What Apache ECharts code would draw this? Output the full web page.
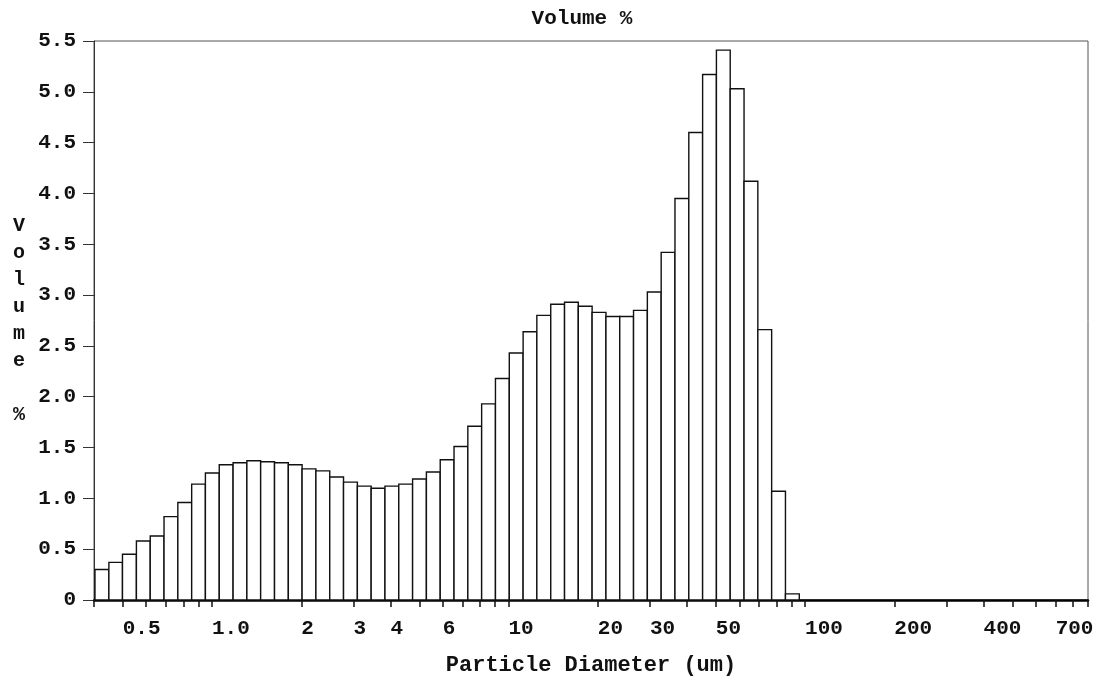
<!DOCTYPE html>
<html>
<head>
<meta charset="utf-8">
<script src="https://cdn.jsdelivr.net/npm/echarts@6/dist/echarts.min.js"></script>
<style>
  html, body { margin: 0; padding: 0; background: #fff; }
  #chart { width: 1103px; height: 684px; }
</style>
</head>
<body>
<div id="chart"></div>
<script>
	'use strict'

	/*-----data-----*/
	// bin edges in um, one more than there are bars
	var binEdges = [0.403, 0.449, 0.499, 0.556, 0.619, 0.689, 0.767, 0.854, 0.950, 1.058,
		1.178, 1.311, 1.459, 1.625, 1.809, 2.013, 2.241, 2.495, 2.777, 3.092,
		3.442, 3.831, 4.265, 4.748, 5.285, 5.884, 6.550, 7.291, 8.116, 9.035,
		10.06, 11.20, 12.46, 13.88, 15.45, 17.19, 19.14, 21.31, 23.72, 26.40,
		29.39, 32.72, 36.42, 40.55, 45.14, 50.25, 55.93, 62.27, 69.31, 77.16,
		85.89, 95.62];
	var volume = [0.30, 0.37, 0.45, 0.58, 0.63, 0.82, 0.96, 1.14, 1.25, 1.33,
		1.35, 1.37, 1.36, 1.35, 1.33, 1.29, 1.27, 1.21, 1.16, 1.12,
		1.10, 1.12, 1.14, 1.19, 1.26, 1.38, 1.51, 1.71, 1.93, 2.18,
		2.43, 2.64, 2.80, 2.91, 2.93, 2.89, 2.83, 2.79, 2.79, 2.85,
		3.03, 3.42, 3.95, 4.60, 5.17, 5.41, 5.03, 4.12, 2.66, 1.07,
		0.06];
	var xTickValues = [0.4, 0.5, 0.6, 0.7, 0.8, 0.9, 1, 2, 3, 4, 5, 6, 7, 8, 9,
		10, 20, 30, 40, 50, 60, 70, 80, 90, 100, 200, 300, 400, 500, 600, 700, 800, 900];
	var xLabelValues = [0.5, 1, 2, 3, 4, 6, 10, 20, 30, 50, 100, 200, 400, 700];
	var xLabelText = ['0.5', '1.0', '2', '3', '4', '6', '10', '20', '30', '50', '100', '200', '400', '700'];
	var xMin = 0.4, xMax = 900;

	var bars = volume.map(function (v, i) {
		return [Math.log10(binEdges[i]), Math.log10(binEdges[i + 1]), v];
	});
	var lg = function (a) { return a.map(function (d) { return Math.log10(d); }); };

	var font = "'Liberation Mono', 'DejaVu Sans Mono', monospace";

	var chart = echarts.init(document.getElementById('chart'));
	var option = {
		backgroundColor: '#fff',
		animation: false,
		title: {
			text: 'Volume %',
			left: 577,
			textAlign: 'center',
			top: 3,
			textStyle: { fontFamily: font, fontSize: 21, fontWeight: 'bold', color: '#111' }
		},
		grid: {
			left: 94,
			right: 15,
			top: 41,
			bottom: 84,
			show: true,
			borderColor: '#555',
			borderWidth: 1
		},
		xAxis: {
			type: 'value',
			min: Math.log10(xMin),
			max: Math.log10(xMax),
			name: 'Particle Diameter (um)',
			nameLocation: 'middle',
			nameGap: 54,
			nameTextStyle: { fontFamily: font, fontSize: 22, fontWeight: 'bold', color: '#111' },
			splitLine: { show: false },
			axisLine: { onZero: false, lineStyle: { color: '#000', width: 2.5 } },
			axisTick: {
				customValues: lg(xTickValues),
				length: 7,
				lineStyle: { color: '#111', width: 1.5 }
			},
			axisLabel: {
				customValues: lg(xLabelValues),
				align: 'left',
				margin: 18,
				fontFamily: font,
				fontSize: 21,
				fontWeight: 'bold',
				color: '#111',
				formatter: function (v) {
					for (var i = 0; i < xLabelValues.length; i++) {
						if (Math.abs(Math.log10(xLabelValues[i]) - v) < 1e-6) return xLabelText[i];
					}
					return '';
				}
			}
		},
		yAxis: {
			type: 'value',
			min: 0,
			max: 5.5,
			interval: 0.5,
			name: 'V\no\nl\nu\nm\ne\n\n%',
			nameLocation: 'middle',
			nameRotate: 0,
			nameGap: 75,
			nameTextStyle: {
				fontFamily: font, fontSize: 20, fontWeight: 'bold', color: '#111',
				align: 'center', lineHeight: 27
			},
			splitLine: { show: false },
			axisLine: { onZero: false, lineStyle: { color: '#333', width: 1 } },
			axisTick: { length: 11, lineStyle: { color: '#333', width: 1 } },
			axisLabel: {
				margin: 18,
				fontFamily: font,
				fontSize: 21,
				fontWeight: 'bold',
				color: '#111',
				formatter: function (v) { return v === 0 ? '0' : v.toFixed(1); }
			}
		},
		series: [{
			type: 'custom',
			data: bars,
			encode: { x: [0, 1], y: 2 },
			renderItem: function (params, api) {
				var lo = api.coord([api.value(0), api.value(2)]);
				var hi = api.coord([api.value(1), 0]);
				return {
					type: 'rect',
					shape: { x: lo[0], y: lo[1], width: hi[0] - lo[0], height: hi[1] - lo[1] },
					style: { fill: '#fff', stroke: '#111', lineWidth: 1.4 }
				};
			}
		}]
	};
	chart.setOption(option);
</script>
</body>
</html>
